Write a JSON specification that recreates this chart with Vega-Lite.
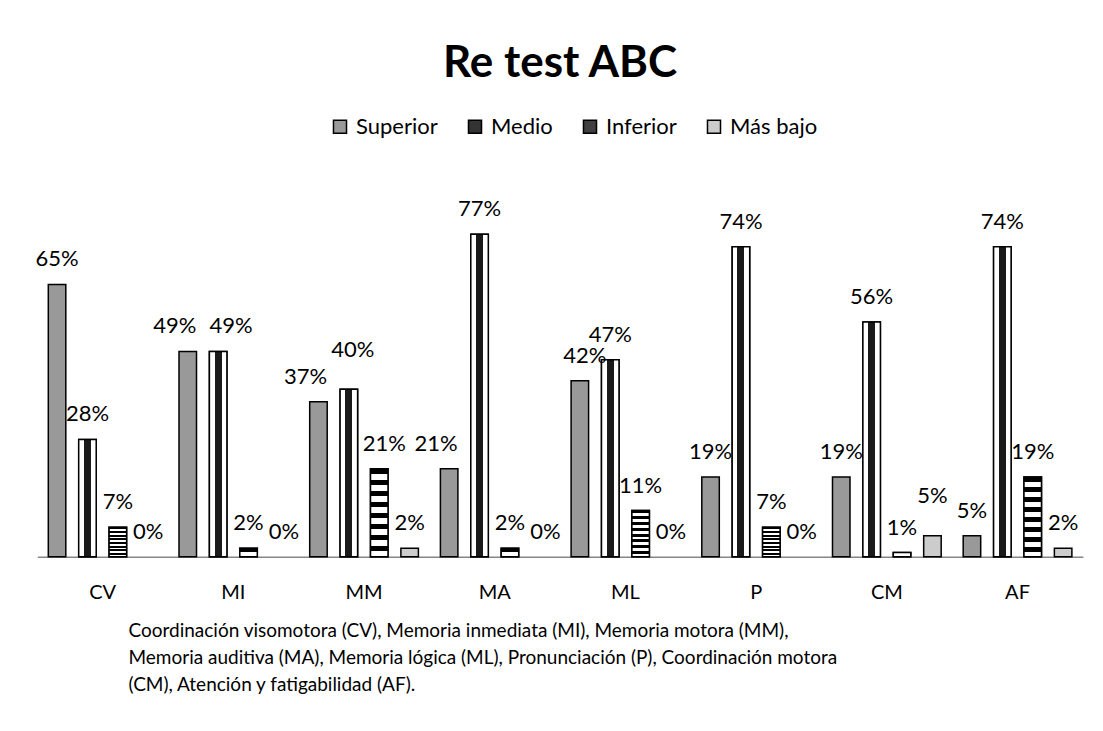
{
  "$schema": "https://vega.github.io/schema/vega-lite/v6.json",
  "width": 1045.6,
  "height": 377,
  "autosize": {"type": "none"},
  "padding": {"left": 37.3, "top": 179.7, "right": 20, "bottom": 174},
  "background": "white",
  "config": {
    "view": {"stroke": null},
    "font": "Lato",
    "text": {"font": "Lato"}
  },
  "title": {
    "text": "Re test ABC",
    "font": "Lato",
    "fontSize": 44,
    "fontWeight": "bold",
    "color": "black",
    "anchor": "middle",
    "baseline": "alphabetic",
    "offset": 39,
    "dy": 44
  },
  "data": {
    "values": [
      {"cat": "CV", "series": "Superior", "value": 0.65},
      {"cat": "CV", "series": "Medio", "value": 0.28},
      {"cat": "CV", "series": "Inferior", "value": 0.07},
      {"cat": "CV", "series": "Más bajo", "value": 0.0},
      {"cat": "MI", "series": "Superior", "value": 0.49},
      {"cat": "MI", "series": "Medio", "value": 0.49},
      {"cat": "MI", "series": "Inferior", "value": 0.02},
      {"cat": "MI", "series": "Más bajo", "value": 0.0},
      {"cat": "MM", "series": "Superior", "value": 0.37},
      {"cat": "MM", "series": "Medio", "value": 0.40},
      {"cat": "MM", "series": "Inferior", "value": 0.21},
      {"cat": "MM", "series": "Más bajo", "value": 0.02},
      {"cat": "MA", "series": "Superior", "value": 0.21},
      {"cat": "MA", "series": "Medio", "value": 0.77},
      {"cat": "MA", "series": "Inferior", "value": 0.02},
      {"cat": "MA", "series": "Más bajo", "value": 0.0},
      {"cat": "ML", "series": "Superior", "value": 0.42},
      {"cat": "ML", "series": "Medio", "value": 0.47},
      {"cat": "ML", "series": "Inferior", "value": 0.11},
      {"cat": "ML", "series": "Más bajo", "value": 0.0},
      {"cat": "P", "series": "Superior", "value": 0.19},
      {"cat": "P", "series": "Medio", "value": 0.74},
      {"cat": "P", "series": "Inferior", "value": 0.07},
      {"cat": "P", "series": "Más bajo", "value": 0.0},
      {"cat": "CM", "series": "Superior", "value": 0.19},
      {"cat": "CM", "series": "Medio", "value": 0.56},
      {"cat": "CM", "series": "Inferior", "value": 0.01},
      {"cat": "CM", "series": "Más bajo", "value": 0.05},
      {"cat": "AF", "series": "Superior", "value": 0.05},
      {"cat": "AF", "series": "Medio", "value": 0.74},
      {"cat": "AF", "series": "Inferior", "value": 0.19},
      {"cat": "AF", "series": "Más bajo", "value": 0.02}
    ]
  },
  "encoding": {
    "x": {
      "field": "cat",
      "type": "nominal",
      "sort": ["CV", "MI", "MM", "MA", "ML", "P", "CM", "AF"],
      "scale": {"paddingInner": 0, "paddingOuter": 0},
      "axis": {
        "title": [
          "Coordinación visomotora (CV), Memoria inmediata (MI), Memoria motora (MM),",
          "Memoria auditiva (MA), Memoria lógica (ML), Pronunciación (P), Coordinación motora",
          "(CM), Atención y fatigabilidad (AF)."
        ],
        "labelAngle": 0,
        "domainColor": "#868686",
        "domainWidth": 1.5,
        "ticks": false,
        "tickSize": 0,
        "labelPadding": 42,
        "labelBaseline": "alphabetic",
        "labelFont": "Lato",
        "labelFontSize": 20,
        "labelColor": "black",
        "titleFont": "Lato",
        "titleFontSize": 19,
        "titleFontWeight": "normal",
        "titleColor": "black",
        "titleAnchor": "start",
        "titleAlign": "left",
        "titleBaseline": "alphabetic",
        "titleX": 90.7,
        "titleY": 80,
        "titleLineHeight": 27
      }
    },
    "xOffset": {
      "field": "series",
      "type": "nominal",
      "scale": {
        "domain": ["Superior", "Medio", "Inferior", "Más bajo"],
        "paddingInner": 0.424,
        "paddingOuter": 0.362
      }
    },
    "y": {
      "field": "value",
      "type": "quantitative",
      "scale": {"domain": [0, 0.9], "nice": false},
      "axis": null
    },
    "text": {"field": "value", "type": "quantitative", "format": ".0%"}
  },
  "layer": [
    {
      "transform": [{"filter": "datum.value > 0"}],
      "mark": {"type": "bar", "stroke": "black", "strokeWidth": 1.5},
      "encoding": {
        "text": null,
        "fill": {
          "field": "series",
          "type": "nominal",
          "scale": {
            "domain": ["Superior", "Medio", "Inferior", "Más bajo"],
            "range": ["#999999", "#333333", "#404040", "#cccccc"]
          },
          "legend": {
            "orient": "none",
            "legendX": 291.7,
            "legendY": -64,
            "direction": "horizontal",
            "title": null,
            "symbolType": "square",
            "symbolSize": 170,
            "symbolStrokeColor": "black",
            "symbolStrokeWidth": 1.5,
            "labelFont": "Lato",
            "labelFontSize": 22,
            "labelColor": "black",
            "labelOffset": 5,
            "columnPadding": 26
          }
        }
      }
    },
    {
      "transform": [{"filter": "datum.value > 0 && datum.series == 'Medio'"}],
      "mark": {
        "type": "bar", "stroke": "black", "strokeWidth": 1.5,
        "fill": {"gradient": "linear", "x1": 0, "y1": 0, "x2": 1, "y2": 0, "stops": [
          {"offset": 0, "color": "white"}, {"offset": 0.3, "color": "white"},
          {"offset": 0.3, "color": "#1a1a1a"}, {"offset": 0.7, "color": "#1a1a1a"},
          {"offset": 0.7, "color": "white"}, {"offset": 1, "color": "white"}
        ]}
      },
      "encoding": {"text": null}
    },
    {
      "transform": [{"filter": "datum.value > 0 && datum.series == 'Inferior'"}],
      "mark": {
        "type": "bar", "stroke": "black", "strokeWidth": 1.5,
        "fill": {"gradient": "linear", "x1": 0, "y1": 0, "x2": 0, "y2": 1, "stops": [
          {"offset": 0, "color": "black"}, {"offset": 0.0625, "color": "black"},
          {"offset": 0.0625, "color": "white"}, {"offset": 0.125, "color": "white"},
          {"offset": 0.125, "color": "black"}, {"offset": 0.1875, "color": "black"},
          {"offset": 0.1875, "color": "white"}, {"offset": 0.25, "color": "white"},
          {"offset": 0.25, "color": "black"}, {"offset": 0.3125, "color": "black"},
          {"offset": 0.3125, "color": "white"}, {"offset": 0.375, "color": "white"},
          {"offset": 0.375, "color": "black"}, {"offset": 0.4375, "color": "black"},
          {"offset": 0.4375, "color": "white"}, {"offset": 0.5, "color": "white"},
          {"offset": 0.5, "color": "black"}, {"offset": 0.5625, "color": "black"},
          {"offset": 0.5625, "color": "white"}, {"offset": 0.625, "color": "white"},
          {"offset": 0.625, "color": "black"}, {"offset": 0.6875, "color": "black"},
          {"offset": 0.6875, "color": "white"}, {"offset": 0.75, "color": "white"},
          {"offset": 0.75, "color": "black"}, {"offset": 0.8125, "color": "black"},
          {"offset": 0.8125, "color": "white"}, {"offset": 0.875, "color": "white"},
          {"offset": 0.875, "color": "black"}, {"offset": 0.9375, "color": "black"},
          {"offset": 0.9375, "color": "white"}, {"offset": 1, "color": "white"}
        ]}
      },
      "encoding": {"text": null}
    },
    {
      "transform": [{"filter": "indexof(['MI|Superior', 'MI|Medio', 'MM|Superior', 'MM|Medio', 'MM|Inferior', 'MA|Superior', 'MA|Más bajo', 'ML|Superior', 'MI|Más bajo', 'CM|Más bajo'], datum.cat + '|' + datum.series) < 0"}],
      "mark": {"type": "text", "baseline": "alphabetic", "dy": -18, "fontSize": 22, "font": "Lato", "color": "black"}
    },
    {
      "transform": [{"filter": "indexof(['MI|Superior', 'MM|Superior', 'MA|Superior'], datum.cat + '|' + datum.series) >= 0"}],
      "mark": {"type": "text", "baseline": "alphabetic", "dy": -18, "dx": -13, "fontSize": 22, "font": "Lato", "color": "black"}
    },
    {
      "transform": [{"filter": "datum.cat == 'MI' && datum.series == 'Medio'"}],
      "mark": {"type": "text", "baseline": "alphabetic", "dy": -18, "dx": 13, "fontSize": 22, "font": "Lato", "color": "black"}
    },
    {
      "transform": [{"filter": "indexof(['MM|Inferior', 'MA|Más bajo', 'ML|Superior', 'MI|Más bajo'], datum.cat + '|' + datum.series) >= 0"}],
      "mark": {"type": "text", "baseline": "alphabetic", "dy": -18, "dx": 5, "fontSize": 22, "font": "Lato", "color": "black"}
    },
    {
      "transform": [{"filter": "datum.cat == 'MM' && datum.series == 'Medio'"}],
      "mark": {"type": "text", "baseline": "alphabetic", "dy": -32, "dx": 4, "fontSize": 22, "font": "Lato", "color": "black"}
    },
    {
      "transform": [{"filter": "datum.cat == 'CM' && datum.series == 'Más bajo'"}],
      "mark": {"type": "text", "baseline": "alphabetic", "dy": -33, "fontSize": 22, "font": "Lato", "color": "black"}
    }
  ]
}
